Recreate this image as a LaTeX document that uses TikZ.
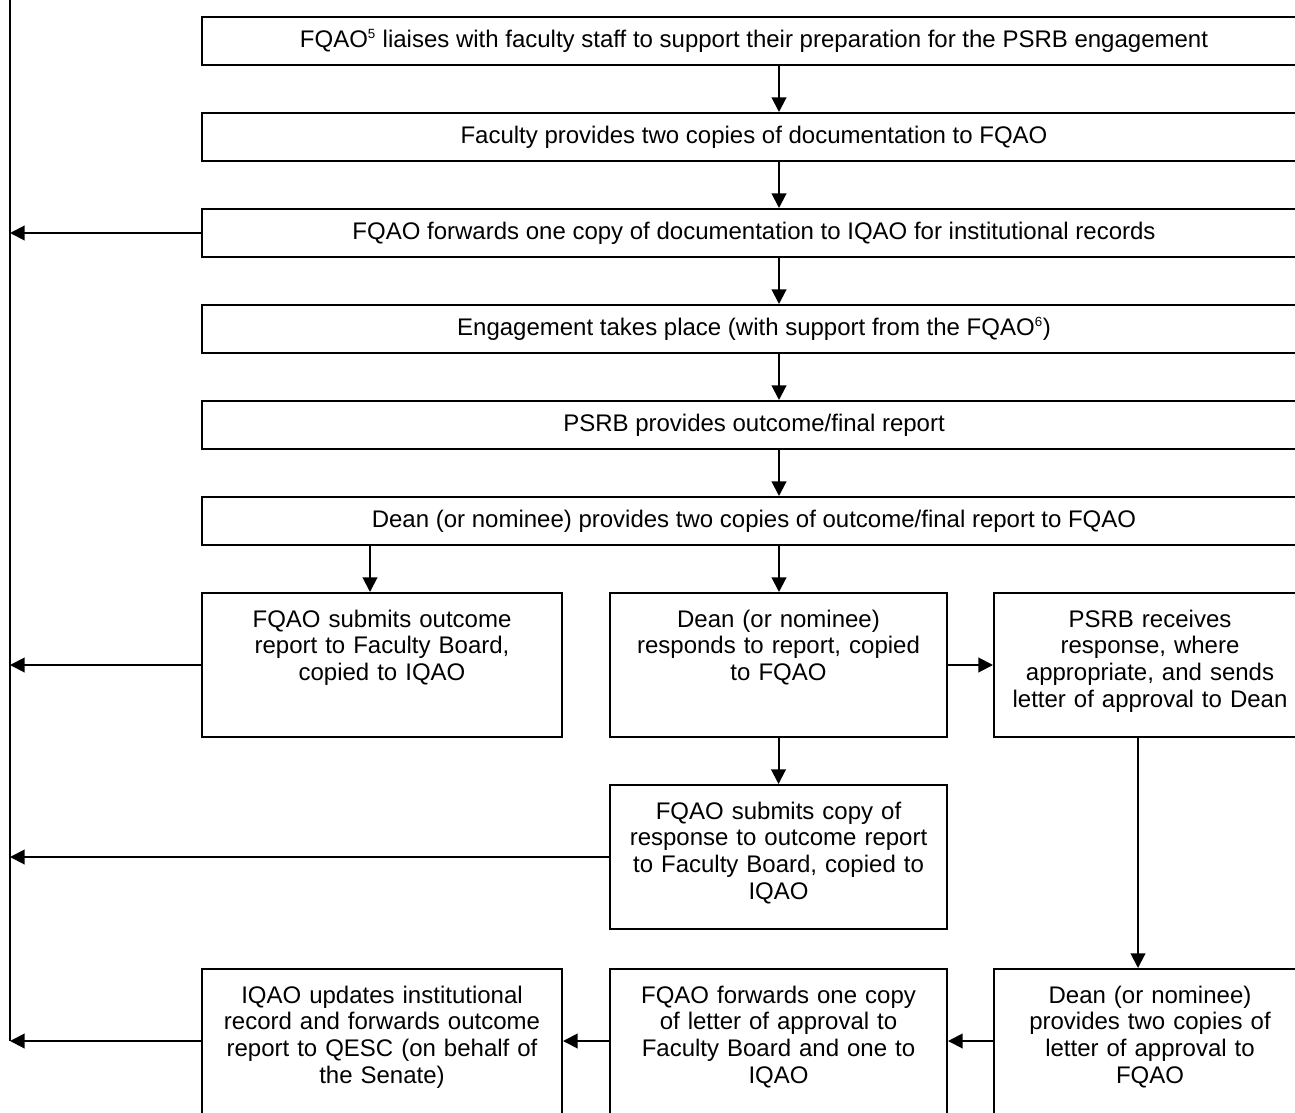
\documentclass[tikz,border=0pt]{standalone}
\usepackage{fontspec}
\setmainfont{Liberation Sans}
\usetikzlibrary{arrows.meta}
\newcommand{\flowfont}{\fontsize{18}{20}\selectfont}
\newcommand{\notemark}[1]{\textsuperscript{\fontsize{10}{10}\selectfont #1}}

\begin{document}
\begin{tikzpicture}[x=0.75pt,y=-0.75pt,
  widebox/.style={draw, line width=1.5pt, minimum width=828pt, minimum height=36pt, inner sep=0pt, font=\flowfont},
  tallbox/.style={draw, line width=1.5pt, minimum height=108pt, inner sep=0pt},
  boxtext/.style={anchor=base, inner sep=0pt, align=center, font=\flowfont},
  arr/.style={line width=1.5pt, -{Triangle[length=11pt,width=11pt]}},
  rail/.style={line width=1.5pt}]
\useasboundingbox (0,0) rectangle (1295,1113);
\clip (0,0) rectangle (1295,1113);

%Guides for the connectors
\coordinate (railtop) at (10,0);
\coordinate (railend) at (10,1041);
\coordinate (spine) at (779,0);
\coordinate (leftdrop) at (370,0);
\coordinate (rightdrop) at (1138,0);

%Shape: wide steps
\node[widebox] (liaise) at (754,41) {FQAO\notemark{5} liaises with faculty staff to support their preparation for the PSRB engagement};
\node[widebox] (docs) at (754,137) {Faculty provides two copies of documentation to FQAO};
\node[widebox] (fwd) at (754,233) {FQAO forwards one copy of documentation to IQAO for institutional records};
\node[widebox] (event) at (754,329) {Engagement takes place (with support from the FQAO\notemark{6})};
\node[widebox] (outcome) at (754,425) {PSRB provides outcome/final report};
\node[widebox] (deancopies) at (754,521) {Dean (or nominee) provides two copies of outcome/final report to FQAO};

%Shape: second row
\node[tallbox, minimum width=270pt] (submit) at (382,665) {};
\node[tallbox, minimum width=252.75pt] (respond) at (778.5,665) {};
\node[tallbox, minimum width=234pt] (approve) at (1150,665) {};
%Shape: third row
\node[tallbox, minimum width=252.75pt] (submitcopy) at (778.5,857) {};
%Shape: last row, cut by the lower edge
\node[tallbox, minimum width=270pt, minimum height=111pt] (update) at (382,1043) {};
\node[tallbox, minimum width=252.75pt, minimum height=111pt] (forward) at (778.5,1043) {};
\node[tallbox, minimum width=234pt, minimum height=111pt] (deanletter) at (1150,1043) {};

% Text Node
\node[boxtext, text width=270pt] (submittxt) at (382,627) {FQAO submits outcome\\report to Faculty Board,\\copied to IQAO};
% Text Node
\node[boxtext, text width=252pt] (respondtxt) at (778.5,627) {Dean (or nominee)\\responds to report, copied\\to FQAO};
% Text Node
\node[boxtext, text width=234pt] (approvetxt) at (1150,627) {PSRB receives\\response, where\\appropriate, and sends\\letter of approval to Dean};
% Text Node
\node[boxtext, text width=252pt] (submitcopytxt) at (778.5,819) {FQAO submits copy of\\response to outcome report\\to Faculty Board, copied to\\IQAO};
% Text Node
\node[boxtext, text width=270pt] (updatetxt) at (382,1003) {IQAO updates institutional\\record and forwards outcome\\report to QESC (on behalf of\\the Senate)};
% Text Node
\node[boxtext, text width=252pt] (forwardtxt) at (778.5,1003) {FQAO forwards one copy\\of letter of approval to\\Faculty Board and one to\\IQAO};
% Text Node
\node[boxtext, text width=234pt] (deanlettertxt) at (1150,1003) {Dean (or nominee)\\provides two copies of\\letter of approval to\\FQAO};

%Straight Lines: main flow
\draw[arr] (liaise.south -| spine) -- (docs.north -| spine);
\draw[arr] (docs.south -| spine) -- (fwd.north -| spine);
\draw[arr] (fwd.south -| spine) -- (event.north -| spine);
\draw[arr] (event.south -| spine) -- (outcome.north -| spine);
\draw[arr] (outcome.south -| spine) -- (deancopies.north -| spine);
\draw[arr] (deancopies.south -| leftdrop) -- (submit.north -| leftdrop);
\draw[arr] (deancopies.south -| spine) -- (respond.north -| spine);
\draw[arr] (respond.east) -- (approve.west);
\draw[arr] (respond.south) -- (submitcopy.north);
\draw[arr] (approve.south -| rightdrop) -- (deanletter.north -| rightdrop);
\draw[arr] (deanletter.west |- railend) -- (forward.east |- railend);
\draw[arr] (forward.west |- railend) -- (update.east |- railend);

%Straight Lines: records rail on the left
\draw[rail] (railtop) -- (railend);
\draw[arr] (fwd.west) -- (fwd.west -| railtop);
\draw[arr] (submit.west) -- (submit.west -| railtop);
\draw[arr] (submitcopy.west) -- (submitcopy.west -| railtop);
\draw[arr] (update.west |- railend) -- (railend);

\end{tikzpicture}
\end{document}
